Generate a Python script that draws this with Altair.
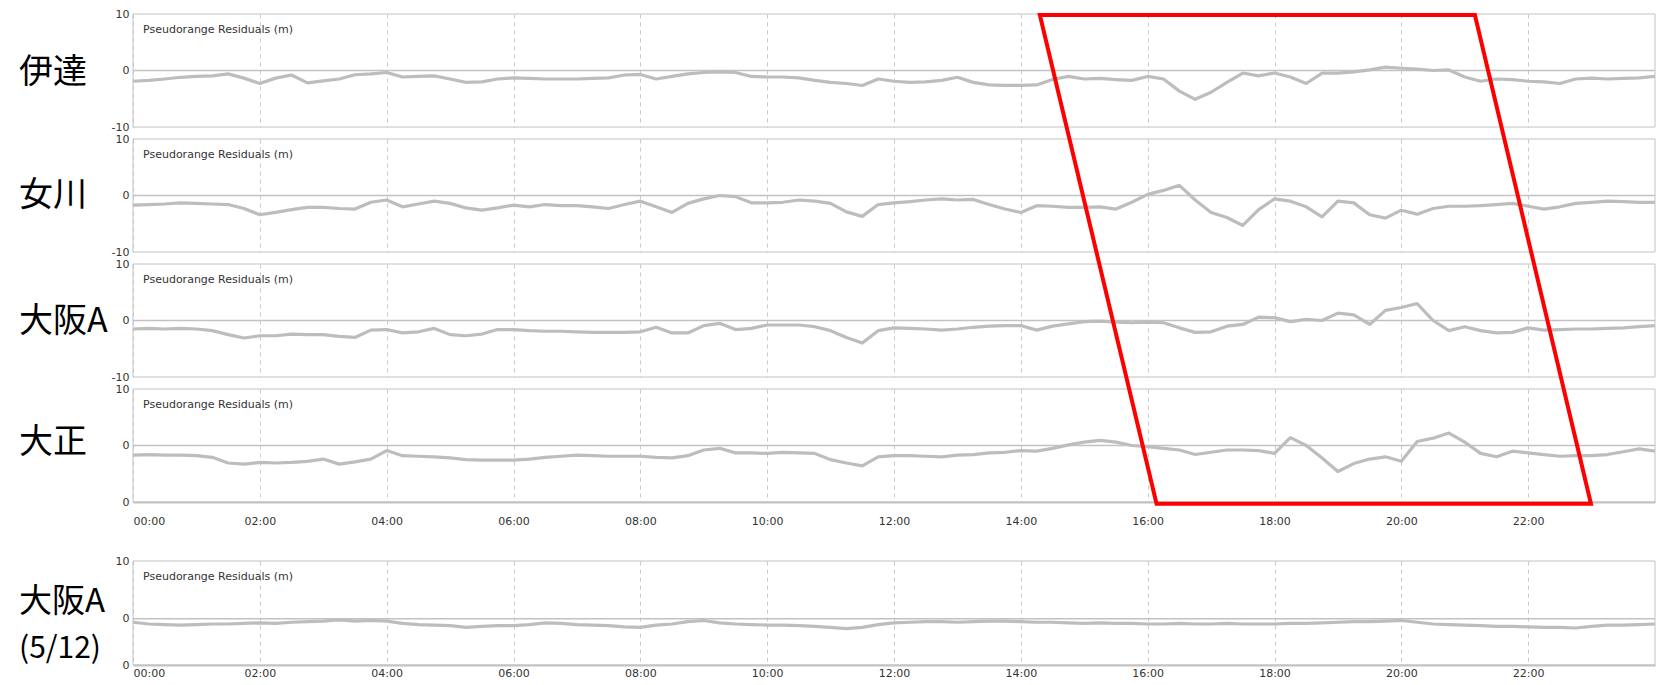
import altair as alt
import pandas as pd

# Sample times in hours (15-minute spacing over one day)
hours = [i * 0.25 for i in range(97)]

# Station names shown beside each panel
station_names = [["伊達"], ["女川"], ["大阪A"], ["大正"], ["大阪A", "(5/12)"]]

# Pseudorange residuals (m)
date_res = [
    -1.9, -1.75, -1.5, -1.2, -1.05, -0.95, -0.6, -1.35, -2.3, -1.35, -0.8, -2.2,
    -1.85, -1.5, -0.75, -0.6, -0.35, -1.15, -1.05, -0.95, -1.5, -2.1, -2.0, -1.5,
    -1.3, -1.4, -1.5, -1.5, -1.5, -1.4, -1.3, -0.8, -0.7, -1.5, -1.05, -0.6,
    -0.35, -0.25, -0.35, -1.05, -1.15, -1.15, -1.3, -1.75, -2.1, -2.3, -2.65, -1.5,
    -1.9,
    -2.1, -2.0, -1.75, -1.2, -2.1, -2.55, -2.65, -2.65, -2.55, -1.6, -1.05, -1.5,
    -1.4, -1.6, -1.75, -1.05, -1.5, -3.65, -5.1, -3.85, -2.1, -0.45, -0.95, -0.45,
    -1.15, -2.3, -0.45, -0.45, -0.25, 0.1, 0.6, 0.4, 0.25, 0.0, 0.1, -1.15,
    -1.9, -1.5, -1.6, -1.9, -2.0, -2.3, -1.5, -1.35, -1.5, -1.4, -1.3, -1.05,
]
onagawa_res = [
    -1.7, -1.6, -1.5, -1.3, -1.4, -1.5, -1.6, -2.3, -3.4, -3.0, -2.5, -2.1,
    -2.1, -2.3, -2.4, -1.2, -0.8, -2.0, -1.5, -1.0, -1.4, -2.2, -2.6, -2.2,
    -1.7, -2.0, -1.6, -1.8, -1.8, -2.0, -2.3, -1.6, -1.0, -2.0, -3.0, -1.4,
    -0.6, 0.0, -0.2, -1.3, -1.3, -1.2, -0.8, -1.0, -1.4, -2.9, -3.7, -1.6,
    -1.3,
    -1.1, -0.8, -0.6, -0.8, -0.7, -1.6, -2.4, -3.0, -1.8, -1.9, -2.1, -2.1,
    -2.0, -2.4, -1.2, 0.2, 0.9, 1.8, -0.8, -3.0, -3.9, -5.3, -2.5, -0.6,
    -1.0, -2.0, -3.8, -1.0, -1.3, -3.4, -4.0, -2.6, -3.3, -2.3, -1.9, -1.9,
    -1.8, -1.6, -1.4, -1.9, -2.4, -2.0, -1.4, -1.2, -1.0, -1.1, -1.2, -1.2,
]
osaka_a_res = [
    -1.5, -1.4, -1.5, -1.4, -1.5, -1.8, -2.5, -3.1, -2.7, -2.7, -2.4, -2.5,
    -2.5, -2.8, -3.0, -1.7, -1.6, -2.2, -2.0, -1.4, -2.5, -2.7, -2.4, -1.6,
    -1.6, -1.8, -1.9, -1.9, -2.0, -2.1, -2.1, -2.1, -2.0, -1.2, -2.2, -2.2,
    -0.9, -0.5, -1.6, -1.4, -0.8, -0.8, -0.8, -1.1, -1.8, -3.0, -4.0, -1.8,
    -1.3,
    -1.4, -1.5, -1.7, -1.5, -1.2, -1.0, -0.9, -0.9, -1.7, -1.0, -0.6, -0.2,
    -0.1, -0.3, -0.4, -0.3, -0.4, -1.3, -2.1, -2.0, -1.0, -0.7, 0.6, 0.5,
    -0.2, 0.2, 0.0, 1.3, 1.0, -0.7, 1.8, 2.3, 3.0, 0.0, -1.8, -1.1,
    -1.8, -2.2, -2.1, -1.3, -1.7, -1.6, -1.5, -1.5, -1.4, -1.3, -1.1, -0.9,
]
taisho_res = [
    -1.7, -1.6, -1.7, -1.7, -1.8, -2.1, -3.1, -3.3, -3.0, -3.1, -3.0, -2.8,
    -2.4, -3.3, -2.9, -2.4, -0.9, -1.8, -1.9, -2.0, -2.2, -2.5, -2.6, -2.6,
    -2.6, -2.4, -2.1, -1.9, -1.7, -1.8, -1.9, -1.9, -1.9, -2.1, -2.2, -1.8,
    -0.8, -0.5, -1.3, -1.3, -1.4, -1.2, -1.3, -1.4, -2.5, -3.1, -3.6, -2.0,
    -1.8,
    -1.8, -1.9, -2.0, -1.7, -1.6, -1.3, -1.2, -0.9, -1.0, -0.5, 0.1, 0.6,
    0.9, 0.6, 0.0, -0.2, -0.5, -0.8, -1.6, -1.2, -0.8, -0.8, -0.9, -1.4,
    1.4, 0.0, -2.2, -4.6, -3.2, -2.4, -2.0, -2.8, 0.7, 1.3, 2.2, 0.6,
    -1.4, -2.0, -1.0, -1.3, -1.6, -1.9, -1.8, -1.8, -1.6, -1.1, -0.6, -1.0,
]
osaka_a_0512_res = [
    -0.6, -0.9, -1.0, -1.1, -1.0, -0.9, -0.9, -0.8, -0.7, -0.8, -0.6, -0.5,
    -0.4, -0.2, -0.4, -0.3, -0.4, -0.8, -1.0, -1.1, -1.2, -1.5, -1.3, -1.2,
    -1.2, -1.0, -0.7, -0.8, -1.0, -1.1, -1.2, -1.4, -1.5, -1.1, -0.9, -0.5,
    -0.3, -0.7, -0.9, -1.0, -1.1, -1.1, -1.2, -1.3, -1.5, -1.7, -1.5, -1.0,
    -0.7,
    -0.6, -0.5, -0.5, -0.6, -0.5, -0.4, -0.4, -0.5, -0.6, -0.6, -0.7, -0.8,
    -0.7, -0.8, -0.8, -0.9, -0.9, -0.8, -0.9, -0.9, -0.8, -0.9, -0.9, -0.9,
    -0.8, -0.8, -0.7, -0.6, -0.5, -0.5, -0.4, -0.3, -0.6, -0.9, -1.0, -1.1,
    -1.2, -1.3, -1.3, -1.4, -1.5, -1.5, -1.6, -1.3, -1.1, -1.1, -1.0, -0.9,
]

# Highlighted time window (hours, residual units of the 大正 panel)
box_hours = [14.3, 21.16, 22.99, 16.14, 14.3, 21.16]
box_levels = [76.2, 76.2, -10.3, -10.3, 76.2, 76.2]

hour_ticks = list(range(0, 24, 2))
panel_title = "Pseudorange Residuals (m)"

LINE = "#bdbdbd"
FRAME = "#c2c2c2"
GRID = "#c9c9c9"
W = 1522
H = 113


def panel(values, names, name_rows, name_sizes, height, y_min, bottom_label,
          show_x, x_pad=5, box=False):
    df = pd.DataFrame({"hour": hours, "res": values})
    x_scale = alt.Scale(domain=[0, 24], nice=False, zero=False)
    y_scale = alt.Scale(domain=[y_min, 10], nice=False, zero=False)
    x_axis = alt.Axis(
        values=hour_ticks, grid=True, gridDash=[4, 4], gridColor=GRID,
        gridWidth=1, ticks=False, labels=show_x, domain=show_x,
        domainColor=FRAME, domainWidth=2, labelPadding=x_pad,
        labelExpr="(datum.value < 10 ? '0' : '') + datum.value + ':00'",
        title=None,
    )
    y_axis = alt.Axis(
        values=[10, 0, y_min], grid=False, ticks=False, domain=False,
        labelPadding=4,
        labelExpr=f"datum.value == {y_min} ? '{bottom_label}' : datum.value + ''",
        title=None,
    )
    x = alt.X("hour:Q", scale=x_scale, axis=x_axis)
    y = alt.Y("res:Q", scale=y_scale, axis=y_axis)

    zero = alt.Chart(pd.DataFrame({"res": [0]})).mark_rule(
        color=FRAME, strokeWidth=1.5
    ).encode(y=y)
    line = alt.Chart(df).mark_line(
        color=LINE, strokeWidth=3.2, strokeJoin="round"
    ).encode(x=x, y=y)
    ttl = alt.Chart(pd.DataFrame({"t": [panel_title]})).mark_text(
        align="left", baseline="middle", font="DejaVu Sans", fontSize=11,
        color="#333333"
    ).encode(x=alt.value(10), y=alt.value(16), text="t:N")
    frame = alt.Chart(pd.DataFrame({"k": [0]})).mark_rect(
        filled=False, stroke=FRAME, strokeWidth=1
    ).encode(x=alt.value(0), x2=alt.value(W), y=alt.value(0),
             y2=alt.value(height))

    layers = [zero, line, ttl, frame]
    for name, row_y, size in zip(names, name_rows, name_sizes):
        layers.append(
            alt.Chart(pd.DataFrame({"n": [name]})).mark_text(
                align="left", baseline="middle", font="Noto Sans CJK JP",
                fontSize=size, color="#000000", clip=False
            ).encode(x=alt.value(-114), y=alt.value(row_y), text="n:N")
        )
    if box:
        bdf = pd.DataFrame({"hour": box_hours, "res": box_levels,
                            "idx": list(range(len(box_hours)))})
        layers.append(
            alt.Chart(bdf).mark_line(
                color="#ff0000", strokeWidth=4, clip=False,
                strokeJoin="miter", strokeCap="butt"
            ).encode(x=x, y=y, order="idx:Q")
        )
    return alt.layer(*layers).properties(width=W, height=height)


p1 = panel(date_res, station_names[0], [59], [34], H, -10, "-10", False)
p2 = panel(onagawa_res, station_names[1], [57], [34], H, -10, "-10", False)
p3 = panel(osaka_a_res, station_names[2], [58], [34], H, -10, "-10", False)
p4 = panel(taisho_res, station_names[3], [54], [34], H, -10, "0", True,
           x_pad=13, box=True)
spacer = alt.Chart(pd.DataFrame({"k": [0]})).mark_text(text="").encode(
    x=alt.value(0), y=alt.value(0)
).properties(width=W, height=35)
p5 = panel(osaka_a_0512_res, station_names[4], [41, 88], [33, 30], 104, -8,
           "0", True, x_pad=2)

chart = alt.vconcat(p1, p2, p3, p4, spacer, p5, spacing=12, bounds="flush").properties(
    padding={"left": 18, "top": 6, "right": 0, "bottom": 0},
    background="white",
).configure_view(
    stroke="transparent"
).configure_axis(
    labelFont="DejaVu Sans", labelFontSize=11, labelColor="#333333"
)

chart.save("out.html", embed_options={"renderer": "svg", "actions": False})
